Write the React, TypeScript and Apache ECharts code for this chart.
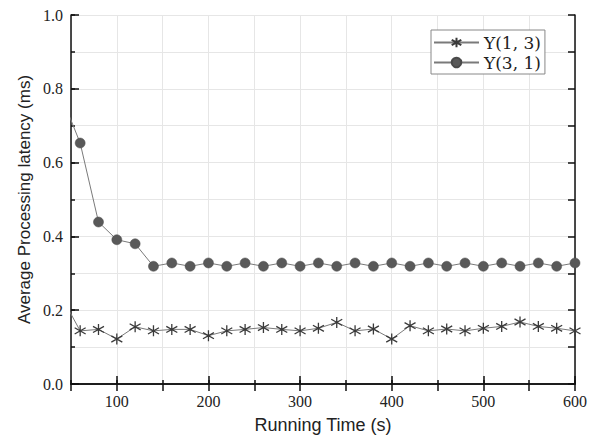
import React, { useEffect, useRef } from "react";
import * as echarts from "echarts";

const times = [40, 60, 80, 100, 120, 140, 160, 180, 200, 220, 240, 260, 280, 300, 320, 340, 360, 380, 400, 420, 440, 460, 480, 500, 520, 540, 560, 580, 600];
const y13 = [0.235, 0.144, 0.148, 0.122, 0.155, 0.144, 0.148, 0.148, 0.131, 0.144, 0.148, 0.153, 0.148, 0.144, 0.151, 0.167, 0.144, 0.149, 0.122, 0.158, 0.144, 0.149, 0.144, 0.151, 0.156, 0.168, 0.156, 0.151, 0.144];
const y31 = [0.777, 0.653, 0.439, 0.391, 0.38, 0.319, 0.328, 0.319, 0.328, 0.319, 0.328, 0.319, 0.328, 0.319, 0.328, 0.319, 0.328, 0.319, 0.328, 0.319, 0.328, 0.319, 0.328, 0.319, 0.328, 0.319, 0.328, 0.319, 0.328];
const seriesNames = ["Y(1, 3)", "Y(3, 1)"];
const xMajorTicks = [100, 200, 300, 400, 500, 600];
const yLabelValues = [0, 0.2, 0.4, 0.6, 0.8, 1.0];
const xTitle = "Running Time (s)";
const yTitle = "Average Processing latency (ms)";

const STAR = "path://M5 0L5 10M1.2 2.2L8.8 7.8M1.2 7.8L8.8 2.2";
const SERIF = "Liberation Serif";
const LEGEND_SERIF = "DejaVu Serif";

export default function App() {
  const ref = useRef<HTMLDivElement>(null);
  useEffect(() => {
    if (!ref.current) return;
    const chart = echarts.init(ref.current, null, { renderer: "svg" });
    const axisColor = "#111";
    const gridColor = "#e6e6e6";
    const labelStyle = { fontFamily: SERIF, fontSize: 16, color: "#222" };
    chart.setOption({
      animation: false,
      backgroundColor: "#fff",
      textStyle: { fontFamily: SERIF },
      grid: { left: 71, right: 23, top: 15, bottom: 54, containLabel: false },
      legend: {
        orient: "vertical",
        left: 431,
        top: 30,
        itemGap: 3,
        itemWidth: 45,
        itemHeight: 12,
        padding: [4, 4, 3, 2],
        borderColor: "#888",
        borderWidth: 1,
        backgroundColor: "#fff",
        textStyle: { fontFamily: LEGEND_SERIF, fontSize: 17, color: "#222" },
        data: seriesNames,
      },
      xAxis: [
        {
          type: "value",
          position: "bottom",
          min: 50,
          max: 600,
          interval: 50,
          name: xTitle,
          nameLocation: "middle",
          nameGap: 32,
          nameTextStyle: { fontFamily: "Liberation Sans", fontSize: 18, color: "#222" },
          axisLine: { show: true, lineStyle: { color: axisColor, width: 1.5 } },
          axisTick: { show: true, inside: true, length: 4, lineStyle: { color: axisColor, width: 1.5 } },
          axisLabel: { show: false },
          splitLine: { show: true, lineStyle: { color: gridColor, width: 1 } },
        },
        {
          type: "value",
          position: "bottom",
          min: 50,
          max: 600,
          axisLine: { show: false },
          axisTick: { show: true, inside: true, length: 8, customValues: xMajorTicks, lineStyle: { color: axisColor, width: 1.5 } },
          axisLabel: { show: true, customValues: xMajorTicks, margin: 9, ...labelStyle, textStyle: labelStyle },
          splitLine: { show: false },
        },
        {
          type: "value",
          position: "top",
          min: 50,
          max: 600,
          interval: 50,
          axisLine: { show: true, lineStyle: { color: axisColor, width: 1.5 } },
          axisTick: { show: true, inside: true, length: 7, lineStyle: { color: axisColor, width: 1.5 } },
          axisLabel: { show: false },
          splitLine: { show: false },
        },
      ],
      yAxis: [
        {
          type: "value",
          position: "left",
          min: 0,
          max: 1,
          interval: 0.1,
          name: yTitle,
          nameLocation: "middle",
          nameGap: 38,
          nameTextStyle: { fontFamily: "Liberation Sans", fontSize: 17, color: "#222" },
          axisLine: { show: true, lineStyle: { color: axisColor, width: 1.5 } },
          axisTick: { show: true, inside: true, length: 4, lineStyle: { color: axisColor, width: 1.5 } },
          axisLabel: { show: false },
          splitLine: { show: true, lineStyle: { color: gridColor, width: 1 } },
        },
        {
          type: "value",
          position: "left",
          min: 0,
          max: 1,
          interval: 0.2,
          axisLine: { show: false },
          axisTick: { show: true, inside: true, length: 8, lineStyle: { color: axisColor, width: 1.5 } },
          axisLabel: {
            show: true,
            margin: 8,
            ...labelStyle,
            textStyle: labelStyle,
            formatter: (v: number) => v.toFixed(1),
          },
          splitLine: { show: false },
        },
        {
          type: "value",
          position: "right",
          min: 0,
          max: 1,
          interval: 0.1,
          axisLine: { show: true, lineStyle: { color: axisColor, width: 1.5 } },
          axisTick: { show: true, inside: true, length: 7, lineStyle: { color: axisColor, width: 1.5 } },
          axisLabel: { show: false },
          splitLine: { show: false },
        },
      ],
      series: [
        {
          name: seriesNames[0],
          type: "line",
          xAxisIndex: 0,
          yAxisIndex: 0,
          clip: true,
          data: times.map((t, i) => [t, y13[i]]),
          symbol: STAR,
          symbolSize: 11,
          lineStyle: { color: "#7a7a7a", width: 1 },
          itemStyle: { color: "#3a3a3a", borderColor: "#3a3a3a", borderWidth: 1.3 },
          z: 3,
        },
        {
          name: seriesNames[1],
          type: "line",
          xAxisIndex: 0,
          yAxisIndex: 0,
          clip: true,
          data: times.map((t, i) => [t, y31[i]]),
          symbol: "circle",
          symbolSize: 10,
          lineStyle: { color: "#7a7a7a", width: 1 },
          itemStyle: { color: "#595959", borderColor: "#4a4a4a", borderWidth: 0.5 },
          z: 3,
        },
      ],
    });
    return () => chart.dispose();
  }, []);
  return <div ref={ref} style={{ width: 598, height: 439, position: "absolute", left: 0, top: 0 }} />;
}
